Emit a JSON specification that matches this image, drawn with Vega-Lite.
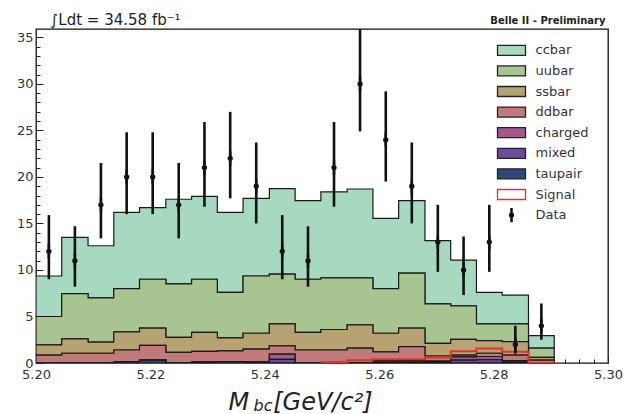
{
  "$schema": "https://vega.github.io/schema/vega-lite/v6.json",
  "width": 572,
  "height": 334,
  "autosize": {"type": "none"},
  "padding": {"left": 36, "top": 29, "right": 17, "bottom": 51},
  "background": "white",
  "config": {
    "view": {"stroke": "#111111", "strokeWidth": 1.3},
    "font": "DejaVu Sans",
    "axis": {"grid": false, "domain": false, "labelFont": "DejaVu Sans", "labelColor": "#333333", "labelFontSize": 13, "tickColor": "#222222", "tickWidth": 1, "titleFont": "DejaVu Sans", "titleFontWeight": "normal", "titleColor": "#222222"}
  },
  "datasets": {
    "hist": [
      {"x": 5.2000, "ccbar": 4.35, "uubar": 3.05, "ssbar": 1.1, "ddbar": 0.85, "charged": 0, "mixed": 0, "taupair": 0, "signal": null},
      {"x": 5.2045, "ccbar": 6.05, "uubar": 4.85, "ssbar": 1.55, "ddbar": 1.05, "charged": 0, "mixed": 0, "taupair": 0, "signal": null},
      {"x": 5.2091, "ccbar": 5.6, "uubar": 4.75, "ssbar": 1.2, "ddbar": 1.05, "charged": 0, "mixed": 0, "taupair": 0, "signal": null},
      {"x": 5.2136, "ccbar": 8.2, "uubar": 4.65, "ssbar": 1.95, "ddbar": 1.25, "charged": 0, "mixed": 0, "taupair": 0.15, "signal": null},
      {"x": 5.2181, "ccbar": 7.7, "uubar": 5.25, "ssbar": 1.85, "ddbar": 1.6, "charged": 0, "mixed": 0, "taupair": 0.3, "signal": null},
      {"x": 5.2227, "ccbar": 9.1, "uubar": 5.75, "ssbar": 1.6, "ddbar": 1.15, "charged": 0, "mixed": 0, "taupair": 0, "signal": null},
      {"x": 5.2272, "ccbar": 8.9, "uubar": 5.7, "ssbar": 2.05, "ddbar": 1.15, "charged": 0, "mixed": 0, "taupair": 0.1, "signal": null},
      {"x": 5.2317, "ccbar": 8.6, "uubar": 4.9, "ssbar": 1.4, "ddbar": 1.15, "charged": 0, "mixed": 0, "taupair": 0.15, "signal": null},
      {"x": 5.2362, "ccbar": 8.35, "uubar": 6.15, "ssbar": 1.7, "ddbar": 1.4, "charged": 0, "mixed": 0, "taupair": 0.1, "signal": null},
      {"x": 5.2408, "ccbar": 9.2, "uubar": 5.35, "ssbar": 2.35, "ddbar": 0.9, "charged": 0.55, "mixed": 0.4, "taupair": 0, "signal": null},
      {"x": 5.2453, "ccbar": 8.45, "uubar": 5.7, "ssbar": 1.9, "ddbar": 1.4, "charged": 0, "mixed": 0, "taupair": 0, "signal": null},
      {"x": 5.2498, "ccbar": 9.25, "uubar": 5.55, "ssbar": 2.2, "ddbar": 1.4, "charged": 0, "mixed": 0, "taupair": 0, "signal": 0.1},
      {"x": 5.2544, "ccbar": 9.55, "uubar": 5.05, "ssbar": 2.5, "ddbar": 1.55, "charged": 0, "mixed": 0.05, "taupair": 0, "signal": 0.3},
      {"x": 5.2589, "ccbar": 7.55, "uubar": 4.8, "ssbar": 2.0, "ddbar": 0.95, "charged": 0.15, "mixed": 0.1, "taupair": 0, "signal": 0.4},
      {"x": 5.2634, "ccbar": 7.8, "uubar": 5.9, "ssbar": 2.0, "ddbar": 1.5, "charged": 0.15, "mixed": 0.1, "taupair": 0, "signal": 0.4},
      {"x": 5.2680, "ccbar": 6.8, "uubar": 4.25, "ssbar": 1.35, "ddbar": 0.55, "charged": 0.1, "mixed": 0.1, "taupair": 0, "signal": 0.6},
      {"x": 5.2725, "ccbar": 4.9, "uubar": 3.6, "ssbar": 1.7, "ddbar": 0.2, "charged": 0.35, "mixed": 0.3, "taupair": 0, "signal": 1.25},
      {"x": 5.2770, "ccbar": 3.4, "uubar": 1.8, "ssbar": 1.35, "ddbar": 0.35, "charged": 0.35, "mixed": 0.35, "taupair": 0, "signal": 1.55},
      {"x": 5.2815, "ccbar": 3.1, "uubar": 1.9, "ssbar": 1.45, "ddbar": 0.6, "charged": 0.15, "mixed": 0.1, "taupair": 0, "signal": 1.2},
      {"x": 5.2861, "ccbar": 1.35, "uubar": 1.0, "ssbar": 0.3, "ddbar": 0.3, "charged": 0, "mixed": 0, "taupair": 0, "signal": 0},
      {"x": 5.2906, "ccbar": 1.35, "uubar": 1.0, "ssbar": 0.3, "ddbar": 0.3, "charged": 0, "mixed": 0, "taupair": 0, "signal": 0}
    ],
    "order": [
      {"series": "taupair", "layer": 0},
      {"series": "mixed", "layer": 1},
      {"series": "charged", "layer": 2},
      {"series": "ddbar", "layer": 3},
      {"series": "ssbar", "layer": 4},
      {"series": "uubar", "layer": 5},
      {"series": "ccbar", "layer": 6}
    ],
    "pts": [
      {"m": 5.20225, "n": 12, "lo": 9.0, "hi": 15.9, "series": "Data"},
      {"m": 5.2068, "n": 11, "lo": 8.2, "hi": 14.7, "series": "Data"},
      {"m": 5.21135, "n": 17, "lo": 13.4, "hi": 21.5, "series": "Data"},
      {"m": 5.21585, "n": 20, "lo": 16.0, "hi": 24.8, "series": "Data"},
      {"m": 5.2204, "n": 20, "lo": 16.0, "hi": 24.8, "series": "Data"},
      {"m": 5.22495, "n": 17, "lo": 13.4, "hi": 21.5, "series": "Data"},
      {"m": 5.22945, "n": 21, "lo": 16.8, "hi": 25.9, "series": "Data"},
      {"m": 5.23395, "n": 22, "lo": 17.7, "hi": 27.0, "series": "Data"},
      {"m": 5.2385, "n": 19, "lo": 15.0, "hi": 23.7, "series": "Data"},
      {"m": 5.24305, "n": 12, "lo": 9.0, "hi": 15.9, "series": "Data"},
      {"m": 5.24755, "n": 11, "lo": 8.2, "hi": 14.7, "series": "Data"},
      {"m": 5.2521, "n": 21, "lo": 16.8, "hi": 25.9, "series": "Data"},
      {"m": 5.25665, "n": 30, "lo": 24.9, "hi": 36.5, "series": "Data"},
      {"m": 5.26115, "n": 24, "lo": 19.5, "hi": 29.2, "series": "Data"},
      {"m": 5.2657, "n": 19, "lo": 15.0, "hi": 23.7, "series": "Data"},
      {"m": 5.27025, "n": 13, "lo": 9.8, "hi": 17.0, "series": "Data"},
      {"m": 5.27475, "n": 10, "lo": 7.3, "hi": 13.6, "series": "Data"},
      {"m": 5.27925, "n": 13, "lo": 9.8, "hi": 17.0, "series": "Data"},
      {"m": 5.2838, "n": 2, "lo": 1.0, "hi": 4.0, "series": "Data"},
      {"m": 5.28835, "n": 4, "lo": 2.5, "hi": 6.4, "series": "Data"}
    ]
  },
  "layer": [
    {
      "data": {"name": "hist"},
      "transform": [
        {"fold": ["ccbar", "uubar", "ssbar", "ddbar", "charged", "mixed", "taupair"], "as": ["series", "v"]},
        {"lookup": "series", "from": {"data": {"name": "order"}, "key": "series", "fields": ["layer"]}}
      ],
      "mark": {"type": "area", "interpolate": "step-after", "stroke": "#1a1a1a", "strokeWidth": 1.2, "opacity": 1, "clip": true},
      "encoding": {
        "x": {
          "field": "x", "type": "quantitative",
          "scale": {"domain": [5.2, 5.3], "nice": false, "zero": false},
          "axis": {
            "orient": "bottom",
            "values": [5.2, 5.2025, 5.205, 5.2075, 5.21, 5.2125, 5.215, 5.2175, 5.22, 5.2225, 5.225, 5.2275, 5.23, 5.2325, 5.235, 5.2375, 5.24, 5.2425, 5.245, 5.2475, 5.25, 5.2525, 5.255, 5.2575, 5.26, 5.2625, 5.265, 5.2675, 5.27, 5.2725, 5.275, 5.2775, 5.28, 5.2825, 5.285, 5.2875, 5.29, 5.2925, 5.295, 5.2975, 5.3],
            "format": ".2f",
            "labelExpr": "abs(datum.value*50 - round(datum.value*50)) < 0.001 ? datum.label : ''",
            "tickSize": {"condition": {"test": "abs(datum.value*50 - round(datum.value*50)) < 0.001", "value": -7}, "value": -4},
            "labelPadding": 12,
            "labelFlush": false,
            "labelOverlap": false,
            "labelBound": false,
            "title": "M\u2003[GeV/c²]",
            "titleFontSize": 24,
            "titleFontStyle": "italic",
            "titleX": 192,
            "titleY": 46,
            "titleAlign": "left",
            "titleBaseline": "alphabetic"
          }
        },
        "y": {
          "field": "v", "type": "quantitative", "stack": "zero",
          "scale": {"domain": [0, 35.9], "nice": false},
          "axis": {
            "orient": "left",
            "values": [0, 1, 2, 3, 4, 5, 6, 7, 8, 9, 10, 11, 12, 13, 14, 15, 16, 17, 18, 19, 20, 21, 22, 23, 24, 25, 26, 27, 28, 29, 30, 31, 32, 33, 34, 35],
            "labelExpr": "datum.value % 5 === 0 ? datum.label : ''",
            "tickSize": {"condition": {"test": "datum.value % 5 === 0", "value": -7}, "value": -4},
            "labelPadding": 10,
            "labelOverlap": false,
            "labelBound": false,
            "labelFlush": false,
            "title": "bc",
            "titleAngle": 0,
            "titleX": 217,
            "titleY": 381,
            "titleAlign": "left",
            "titleBaseline": "alphabetic",
            "titleFontSize": 16,
            "titleFontStyle": "italic"
          }
        },
        "color": {
          "field": "series", "type": "nominal",
          "scale": {"domain": ["ccbar", "uubar", "ssbar", "ddbar", "charged", "mixed", "taupair"], "range": ["#a6d9c0", "#a8c490", "#b7a372", "#c07a7a", "#a35a8a", "#6d4b9b", "#2f4779"]},
          "legend": null
        },
        "order": {"field": "layer", "type": "quantitative"}
      }
    },
    {
      "data": {"name": "hist"},
      "mark": {"type": "line", "interpolate": "step-after", "color": "#e8302a", "strokeWidth": 2, "clip": true},
      "encoding": {
        "x": {
          "field": "x", "type": "quantitative",
          "axis": {"orient": "top", "labels": false, "ticks": false, "domain": false, "grid": false, "title": "∫Ldt = 34.58 fb⁻¹", "titleX": 14, "titleY": -5, "titleAlign": "left", "titleBaseline": "alphabetic", "titleFontSize": 15, "titleFontWeight": "normal", "titleColor": "#222222"}
        },
        "y": {
          "field": "signal", "type": "quantitative",
          "axis": {"orient": "right", "labels": false, "ticks": false, "domain": false, "grid": false, "title": "Belle II - Preliminary", "titleAngle": 0, "titleX": -3, "titleY": -6, "titleAlign": "right", "titleBaseline": "alphabetic", "titleFontSize": 10, "titleFontWeight": "bold", "titleColor": "#222222"}
        }
      }
    },
    {
      "data": {"name": "pts"},
      "mark": {"type": "rule", "color": "#111111", "strokeWidth": 2.6, "clip": true},
      "encoding": {
        "x": {"field": "m", "type": "quantitative", "axis": null},
        "y": {"field": "lo", "type": "quantitative", "axis": null},
        "y2": {"field": "hi"}
      }
    },
    {
      "data": {"name": "pts"},
      "mark": {"type": "point", "filled": true, "size": 400, "strokeWidth": 1.3, "opacity": 1},
      "encoding": {
        "x": {"field": "m", "type": "quantitative", "axis": null},
        "y": {"field": "n", "type": "quantitative", "axis": null},
        "shape": {
          "field": "series", "type": "nominal",
          "scale": {"domain": ["ccbar", "uubar", "ssbar", "ddbar", "charged", "mixed", "taupair", "Signal", "Data"], "range": ["M-1.4,-0.5H1.4V0.5H-1.4Z", "M-1.4,-0.5H1.4V0.5H-1.4Z", "M-1.4,-0.5H1.4V0.5H-1.4Z", "M-1.4,-0.5H1.4V0.5H-1.4Z", "M-1.4,-0.5H1.4V0.5H-1.4Z", "M-1.4,-0.5H1.4V0.5H-1.4Z", "M-1.4,-0.5H1.4V0.5H-1.4Z", "M-1.4,-0.5H1.4V0.5H-1.4Z", "M-0.06,-0.65H0.06V0.65H-0.06Z M-0.2,0A0.2,0.2 0 1 0 0.2,0A0.2,0.2 0 1 0 -0.2,0Z"]},
          "legend": {"orient": "none", "legendX": 464.5, "legendY": 10.3, "title": null, "symbolSize": 400, "symbolStrokeWidth": 1.3, "labelFontSize": 13, "labelFont": "DejaVu Sans", "labelColor": "#333333", "labelOffset": 13, "rowPadding": 1.6, "padding": 0, "symbolOpacity": 1}
        },
        "fill": {
          "field": "series", "type": "nominal",
          "scale": {"domain": ["ccbar", "uubar", "ssbar", "ddbar", "charged", "mixed", "taupair", "Signal", "Data"], "range": ["#a6d9c0", "#a8c490", "#b7a372", "#c07a7a", "#a35a8a", "#6d4b9b", "#2f4779", "#ffffff", "#111111"]},
          "legend": {"orient": "none", "legendX": 464.5, "legendY": 10.3, "title": null, "symbolSize": 400, "symbolStrokeWidth": 1.3, "labelFontSize": 13, "labelFont": "DejaVu Sans", "labelColor": "#333333", "labelOffset": 13, "rowPadding": 1.6, "padding": 0, "symbolOpacity": 1}
        },
        "stroke": {
          "field": "series", "type": "nominal",
          "scale": {"domain": ["ccbar", "uubar", "ssbar", "ddbar", "charged", "mixed", "taupair", "Signal", "Data"], "range": ["#222222", "#222222", "#222222", "#222222", "#222222", "#222222", "#222222", "#e8302a", "#111111"]},
          "legend": {"orient": "none", "legendX": 464.5, "legendY": 10.3, "title": null, "symbolSize": 400, "symbolStrokeWidth": 1.3, "labelFontSize": 13, "labelFont": "DejaVu Sans", "labelColor": "#333333", "labelOffset": 13, "rowPadding": 1.6, "padding": 0, "symbolOpacity": 1}
        }
      }
    }
  ],
  "resolve": {"axis": {"x": "independent", "y": "independent"}}
}
